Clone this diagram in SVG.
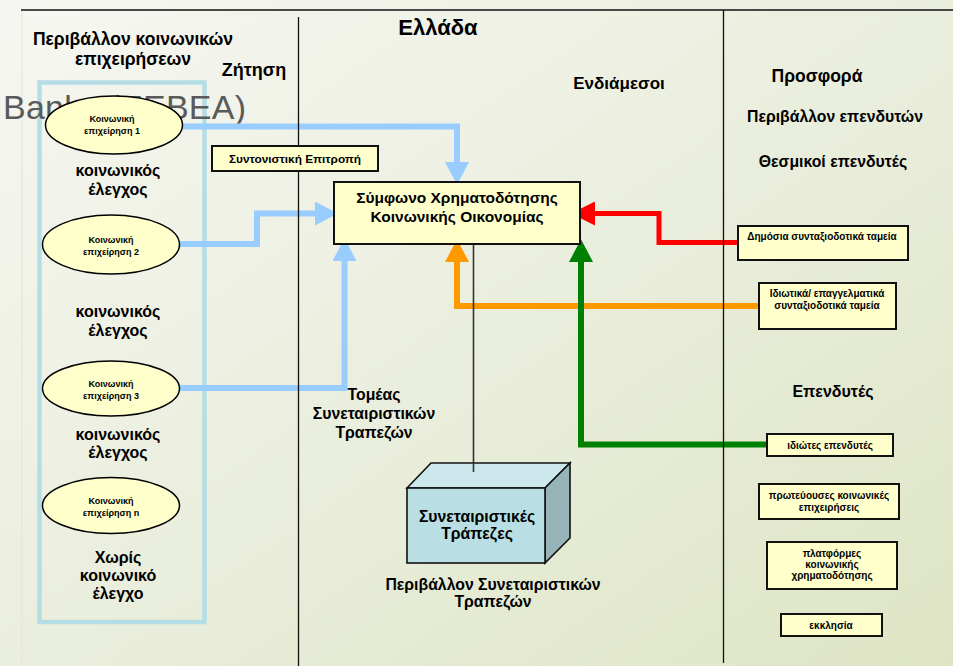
<svg xmlns="http://www.w3.org/2000/svg" width="953" height="666" viewBox="0 0 953 666">
<defs>
<linearGradient id="bg" x1="0" y1="0" x2="1" y2="1">
<stop offset="0" stop-color="#f6f7f2"/>
<stop offset="0.5" stop-color="#eaeedd"/>
<stop offset="1" stop-color="#dee5c4"/>
</linearGradient>
<marker id="hb" markerUnits="userSpaceOnUse" markerWidth="24" markerHeight="24" refX="0" refY="10" orient="auto" viewBox="0 0 20 20"><path d="M0,0 L19,10 L0,20 z" fill="#99ccff"/></marker>
<marker id="hr" markerUnits="userSpaceOnUse" markerWidth="24" markerHeight="24" refX="0" refY="8" orient="auto" viewBox="0 0 16 16"><path d="M0,0 L16,8 L0,16 z" fill="#ff0000"/></marker>
<marker id="ho" markerUnits="userSpaceOnUse" markerWidth="24" markerHeight="24" refX="0" refY="9" orient="auto" viewBox="0 0 18 18"><path d="M0,0 L17,9 L0,18 z" fill="#ff9900"/></marker>
<marker id="hg" markerUnits="userSpaceOnUse" markerWidth="24" markerHeight="24" refX="0" refY="9" orient="auto" viewBox="0 0 18 18"><path d="M0,0 L17,9 L0,18 z" fill="#008000"/></marker>
</defs>
<style>
text{font-family:"Liberation Sans",Arial,sans-serif;font-weight:bold;fill:#000;text-anchor:middle}
.h{font-size:16px}
.e{font-size:9px}
.s{font-size:10px}
.t{font-size:15.8px}
.ell{fill:#ffffcc;stroke:#000;stroke-width:1.5}
.box{fill:#ffffcc;stroke:#111;stroke-width:2}
.sec{stroke:#111;stroke-width:1.3;fill:none}
.c{fill:none;stroke-linejoin:miter}
</style>
<rect x="0" y="0" width="953" height="666" fill="url(#bg)"/>
<line x1="22" y1="10" x2="22" y2="666" stroke="#e2e4da" stroke-width="1"/>

<rect x="39.5" y="82.5" width="165" height="539.5" fill="none" stroke="#b5dde6" stroke-width="4.5"/>
<text x="3" y="119" style="font-weight:normal;font-size:34px;fill:#5a5a5a;text-anchor:start" textLength="243">Banks (EEBEA)</text>

<g id="connectors">
<path class="c" d="M183,126.5 H457 V162" stroke="#99ccff" stroke-width="6" marker-end="url(#hb)"/>
<path class="c" d="M180,244 H257 V213.5 H315" stroke="#99ccff" stroke-width="6" marker-end="url(#hb)"/>
<path class="c" d="M180,388 H344.5 V261" stroke="#99ccff" stroke-width="6" marker-end="url(#hb)"/>
<path class="c" d="M738,242.5 H659 V213.5 H595" stroke="#ff0000" stroke-width="5" marker-end="url(#hr)"/>
<path class="c" d="M759,306 H457 V262" stroke="#ff9900" stroke-width="6" marker-end="url(#ho)"/>
<path class="c" d="M767,444.5 H581 V262" stroke="#008000" stroke-width="6" marker-end="url(#hg)"/>
<line x1="473.5" y1="244" x2="473.5" y2="472" stroke="#333" stroke-width="1.6"/>
</g>

<line class="sec" x1="21" y1="10" x2="953" y2="10"/>
<line class="sec" x1="298.5" y1="17" x2="298.5" y2="666"/>
<line class="sec" x1="723.5" y1="10" x2="723.5" y2="663"/>

<text x="133" y="45" style="font-size:17.5px">Περιβάλλον κοινωνικών</text>
<text x="133" y="65" style="font-size:17.5px">επιχειρήσεων</text>
<text x="254" y="76" style="font-size:18px">Ζήτηση</text>
<text x="438" y="35" style="font-size:22px">Ελλάδα</text>
<text x="619" y="89" style="font-size:17px">Ενδιάμεσοι</text>
<text x="817" y="82" style="font-size:17.5px">Προσφορά</text>
<text x="835" y="122" style="font-size:15.8px">Περιβάλλον επενδυτών</text>
<text x="833" y="167" style="font-size:15.8px">Θεσμικοί επενδυτές</text>
<text class="h" x="833" y="397">Επενδυτές</text>

<text class="h" x="118" y="176">κοινωνικός</text>
<text class="h" x="118" y="195">έλεγχος</text>
<text class="h" x="118" y="317">κοινωνικός</text>
<text class="h" x="118" y="336">έλεγχος</text>
<text class="h" x="118" y="440">κοινωνικός</text>
<text class="h" x="118" y="458">έλεγχος</text>
<text class="h" x="118" y="563">Χωρίς</text>
<text class="h" x="118" y="581">κοινωνικό</text>
<text class="h" x="118" y="599">έλεγχο</text>

<text class="t" x="374" y="400">Τομέας</text>
<text class="t" x="374" y="419">Συνεταιριστικών</text>
<text class="t" x="374" y="438">Τραπεζών</text>
<text class="t" x="493" y="590">Περιβάλλον Συνεταιριστικών</text>
<text class="t" x="493" y="607">Τραπεζών</text>

<g id="ellipse1"><ellipse class="ell" cx="114" cy="125" rx="68.5" ry="29"/><text class="e" x="112" y="122">Κοινωνική</text><text class="e" x="112" y="134">επιχείρηση 1</text></g>
<g id="ellipse2"><ellipse class="ell" cx="111" cy="244.5" rx="68.5" ry="29.5"/><text class="e" x="111" y="242.5">Κοινωνική</text><text class="e" x="111" y="254.5">επιχείρηση 2</text></g>
<g id="ellipse3"><ellipse class="ell" cx="111" cy="388.5" rx="68.5" ry="27.5"/><text class="e" x="111" y="386.5">Κοινωνική</text><text class="e" x="111" y="398.5">επιχείρηση 3</text></g>
<g id="ellipsen"><ellipse class="ell" cx="111" cy="505.5" rx="68.5" ry="28"/><text class="e" x="111" y="503.5">Κοινωνική</text><text class="e" x="111" y="515.5">επιχείρηση n</text></g>

<g id="committee"><rect class="box" x="212" y="146" width="166" height="25"/><text x="295" y="163" style="font-size:11.8px">Συντονιστική Επιτροπή</text></g>
<g id="pact"><rect class="box" x="334" y="182" width="246" height="62"/><text x="457" y="203" style="font-size:15.5px">Σύμφωνο Χρηματοδότησης</text><text x="457" y="222" style="font-size:15.5px">Κοινωνικής Οικονομίας</text></g>

<g id="publicfunds"><rect class="box" x="738" y="226" width="170" height="34"/><text class="s" x="822" y="240">Δημόσια συνταξιοδοτικά ταμεία</text></g>
<g id="privatefunds"><rect class="box" x="759" y="283" width="137" height="46"/><text class="s" x="827" y="297">Ιδιωτικά/ επαγγελματικά</text><text class="s" x="827" y="309">συνταξιοδοτικά ταμεία</text></g>
<g id="privateinv"><rect class="box" x="767" y="434" width="126" height="22"/><text class="s" x="830" y="448.5">ιδιώτες επενδυτές</text></g>
<g id="leading"><rect class="box" x="759" y="484" width="140" height="35"/><text class="s" x="829" y="499">πρωτεύουσες κοινωνικές</text><text class="s" x="829" y="510.5">επιχειρήσεις</text></g>
<g id="platforms"><rect class="box" x="767" y="542" width="130" height="47"/><text class="s" x="832" y="557">πλατφόρμες</text><text class="s" x="832" y="567.5">κοινωνικής</text><text class="s" x="832" y="578.5">χρηματοδότησης</text></g>
<g id="church"><rect class="box" x="781" y="614" width="101" height="22"/><text class="s" x="831" y="629">εκκλησία</text></g>

<g id="coopbanks">
<polygon points="407,488 431,463 570,463 545,488" fill="#cce8ec" stroke="#111" stroke-width="1.6"/>
<polygon points="545,488 570,463 570,538 545,563" fill="#96b3b7" stroke="#111" stroke-width="1.6"/>
<rect x="407" y="488" width="138" height="75" fill="#b9dfe4" stroke="#111" stroke-width="1.6"/>
<text x="477" y="522" style="font-size:15.8px">Συνεταιριστικές</text>
<text x="477" y="539" style="font-size:15.8px">Τράπεζες</text>
</g>
<line x1="473.5" y1="463" x2="473.5" y2="472" stroke="#333" stroke-width="1.6"/>
</svg>
